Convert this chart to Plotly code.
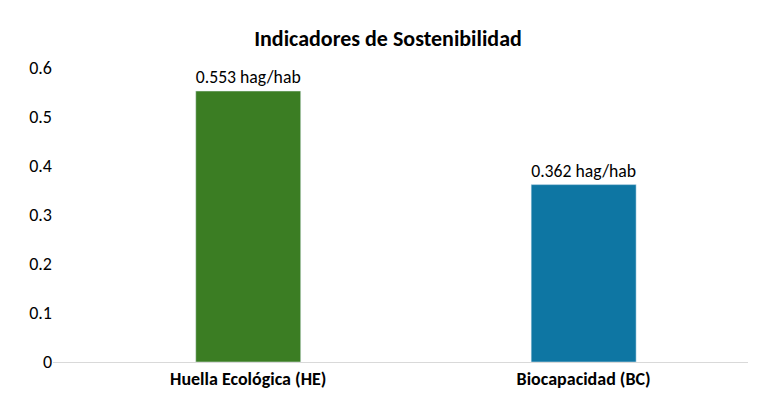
import plotly.graph_objects as go

categorias = ["Huella Ecológica (HE)", "Biocapacidad (BC)"]
valores = [0.553, 0.362]
etiquetas = ["0.553 hag/hab", "0.362 hag/hab"]
colores = ["#3b7d23", "#0e76a3"]

fig = go.Figure(go.Bar(
    x=[0, 1], y=valores, width=0.313,
    marker=dict(color=colores),
    text=etiquetas, textposition="outside",
    textfont=dict(size=18, color="#000000"),
    cliponaxis=False,
))

fig.update_layout(
    width=760, height=407,
    title=dict(text="<b>Indicadores de Sostenibilidad</b>", x=0.5, y=0.945,
               font=dict(size=22, color="#000000")),
    font=dict(family="Carlito, Calibri, Liberation Sans, sans-serif", size=18, color="#000000"),
    plot_bgcolor="white", paper_bgcolor="white",
    margin=dict(l=45, r=20, t=60, b=53),
    showlegend=False,
)
fig.update_xaxes(range=[-0.582, 1.49], showline=True, linecolor="#d9d9d9", linewidth=1,
                 tickfont=dict(size=18), ticks="", showgrid=False, zeroline=False,
                 tickvals=[0, 1], ticktext=[f"<b>{c}</b>" for c in categorias])
fig.update_yaxes(range=[0, 0.6], dtick=0.1, showgrid=False, zeroline=False,
                 tickfont=dict(size=18), tickformat="~g")

fig.write_html("out.html")
